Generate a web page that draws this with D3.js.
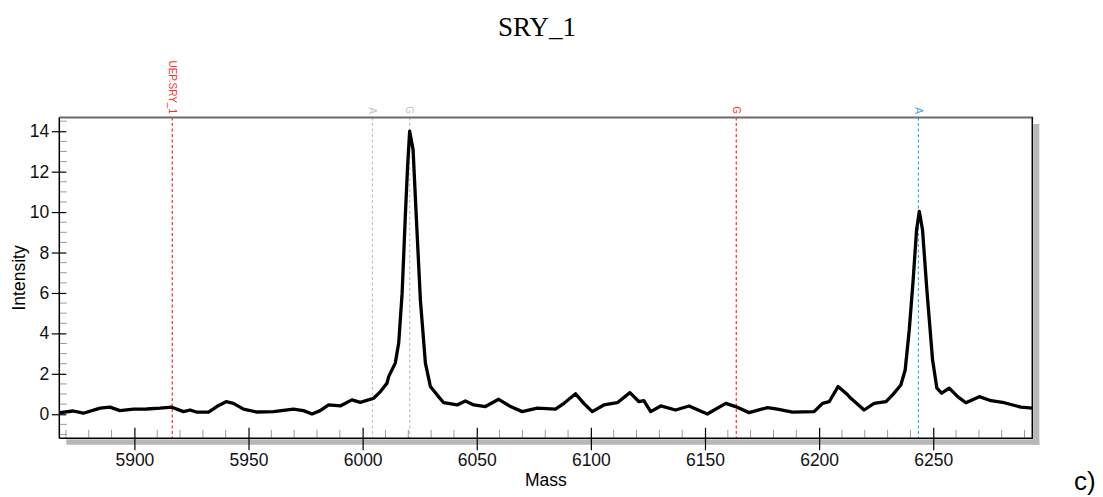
<!DOCTYPE html>
<html>
<head>
<meta charset="utf-8">
<script src="https://cdn.jsdelivr.net/npm/d3@7"></script>
<style>
  body { margin: 0; background: #fff; }
  svg { display: block; }
</style>
</head>
<body>
<svg id="chart"></svg>
<script>
// Spectrum trace
const mass = [5867.4, 5873.2, 5877.6, 5885.0, 5889.3, 5893.7, 5899.6, 5905.4, 5911.3, 5916.4,
  5921.5, 5924.4, 5927.4, 5932.5, 5936.1, 5940.2, 5943.4, 5947.8, 5953.7, 5961.0,
  5969.7, 5974.1, 5977.8, 5981.4, 5985.1, 5990.2, 5995.3, 5999.0, 6004.8, 6007.8,
  6010.7, 6011.4, 6014.3, 6015.8, 6017.3, 6018.7, 6019.7, 6020.6, 6022.1, 6023.5,
  6025.3, 6027.5, 6029.7, 6032.6, 6035.5, 6041.4, 6045.0, 6048.7, 6053.8, 6059.6,
  6064.8, 6069.9, 6076.5, 6084.5, 6088.2, 6093.3, 6096.9, 6100.6, 6105.7, 6111.6,
  6117.1, 6121.1, 6123.2, 6126.2, 6130.6, 6137.1, 6143.0, 6151.0, 6159.1, 6163.4,
  6169.3, 6177.4, 6181.7, 6188.3, 6197.8, 6201.5, 6204.4, 6208.3, 6212.5, 6213.9,
  6219.7, 6224.1, 6229.3, 6232.2, 6235.8, 6237.7, 6239.5, 6241.2, 6242.7, 6243.9,
  6245.3, 6247.2, 6249.7, 6251.6, 6253.7, 6257.0, 6260.7, 6264.3, 6270.2, 6275.3,
  6281.1, 6288.4, 6293.5];
const intensity = [0.08, 0.16, 0.05, 0.30, 0.35, 0.18, 0.25, 0.26, 0.30, 0.35,
  0.13, 0.21, 0.10, 0.10, 0.38, 0.62, 0.54, 0.25, 0.11, 0.13,
  0.25, 0.18, 0.01, 0.18, 0.46, 0.41, 0.71, 0.59, 0.79, 1.12,
  1.54, 1.86, 2.53, 3.52, 5.99, 9.79, 12.26, 14.0, 13.09, 9.79,
  5.66, 2.53, 1.37, 0.96, 0.57, 0.46, 0.66, 0.46, 0.38, 0.74,
  0.38, 0.13, 0.30, 0.25, 0.54, 1.01, 0.54, 0.13, 0.46, 0.57,
  1.07, 0.62, 0.67, 0.13, 0.41, 0.21, 0.41, 0.01, 0.54, 0.38,
  0.08, 0.33, 0.25, 0.10, 0.13, 0.54, 0.62, 1.37, 0.96, 0.79,
  0.21, 0.54, 0.62, 0.96, 1.45, 2.19, 4.18, 6.65, 9.13, 10.03,
  9.13, 6.16, 2.69, 1.29, 1.04, 1.29, 0.87, 0.57, 0.87, 0.67,
  0.57, 0.35, 0.30];

// Marker lines
const markerNames = ["UEP.SRY_1", "A", "G", "G", "A"];
const markerMass = [5916.6, 6004.3, 6020.6, 6163.7, 6243.5];
const markerColors = ["#ff2a2a", "#c4c4c4", "#c4c4c4", "#ff2a2a", "#3ea6f2"];

const xTicks = [5900, 5950, 6000, 6050, 6100, 6150, 6200, 6250];
const yTicks = [0, 2, 4, 6, 8, 10, 12, 14];

const W = 1103, H = 497;
const pl = 59.3, pr = 1032.3, pt = 117.5, pb = 438.3;

const svg = d3.select("#chart").attr("width", W).attr("height", H);

const x = d3.scaleLinear().domain([5867.1, 6293.4]).range([pl, pr]);
const y = d3.scaleLinear().domain([-1.19, 14.68]).range([pb, pt]);

// Title
svg.append("text")
  .attr("x", 537).attr("y", 36)
  .attr("text-anchor", "middle")
  .attr("font-family", "Liberation Serif, Times New Roman, serif")
  .attr("font-size", 27)
  .text("SRY_1");

// Frame shadow
svg.append("rect").attr("x", pr + 1).attr("y", pt + 6.5).attr("width", 6).attr("height", pb - pt).attr("fill", "#b8b8b8");
svg.append("rect").attr("x", pl + 7).attr("y", pb + 1).attr("width", pr - pl).attr("height", 5.5).attr("fill", "#b8b8b8");

// Clip for the plot area
svg.append("clipPath").attr("id", "clip")
  .append("rect").attr("x", pl).attr("y", pt).attr("width", pr - pl).attr("height", pb - pt);

// Marker dashed lines
const mk = svg.append("g");
markerMass.forEach((m, i) => {
  mk.append("line")
    .attr("x1", x(m)).attr("x2", x(m))
    .attr("y1", pt).attr("y2", pb)
    .attr("stroke", markerColors[i])
    .attr("stroke-width", 1.2)
    .attr("stroke-dasharray", "3,2.5");
  mk.append("text")
    .attr("transform", `translate(${x(m) - 3.5},${pt - 3.5}) rotate(90)`)
    .attr("text-anchor", "end")
    .attr("font-family", "Liberation Sans, Arial, sans-serif")
    .attr("font-size", 10)
    .attr("fill", markerColors[i])
    .text(markerNames[i]);
});

// Spectrum line
const line = d3.line()
  .x((d, i) => x(mass[i]))
  .y(d => y(d));
svg.append("path")
  .datum(intensity)
  .attr("clip-path", "url(#clip)")
  .attr("fill", "none")
  .attr("stroke", "#000")
  .attr("stroke-width", 3.3)
  .attr("stroke-linejoin", "round")
  .attr("d", line);

// Minor ticks
const minorX = d3.range(5870, 6293, 10).filter(v => v % 50 !== 0);
svg.append("g").selectAll("line").data(minorX).join("line")
  .attr("x1", d => x(d)).attr("x2", d => x(d))
  .attr("y1", pb - 8.5).attr("y2", pb)
  .attr("stroke", "#9a9a9a").attr("stroke-width", 1);
const minorY = d3.range(-1, 14.6, 0.5).filter(v => v % 2 !== 0);
svg.append("g").selectAll("line").data(minorY).join("line")
  .attr("x1", pl).attr("x2", pl + 7.5)
  .attr("y1", d => y(d)).attr("y2", d => y(d))
  .attr("stroke", "#9a9a9a").attr("stroke-width", 1);

// Frame
svg.append("line").attr("x1", pl).attr("x2", pr + 1).attr("y1", pt).attr("y2", pt).attr("stroke", "#6a6a6a").attr("stroke-width", 2);
svg.append("line").attr("x1", pr).attr("x2", pr).attr("y1", pt).attr("y2", pb).attr("stroke", "#000").attr("stroke-width", 1.5);

// Axes
const xAxis = d3.axisBottom(x).tickValues(xTicks).tickFormat(d3.format("d"))
  .tickSizeInner(12).tickSizeOuter(0).tickPadding(3);
const gx = svg.append("g").attr("transform", `translate(0,${pb})`).call(xAxis);
gx.select(".domain").attr("d", `M${pl},0H${pr + 0.7}`).attr("stroke", "#000").attr("stroke-width", 1.5);
gx.selectAll(".tick line").attr("y1", -10.5).attr("stroke", "#000").attr("stroke-width", 1.2);
gx.selectAll(".tick text")
  .attr("font-family", "Liberation Sans, Arial, sans-serif")
  .attr("font-size", 17.5).attr("fill", "#111");

const yAxis = d3.axisLeft(y).tickValues(yTicks).tickFormat(d3.format("d"))
  .tickSizeInner(7.5).tickSizeOuter(0).tickPadding(2.5);
const gy = svg.append("g").attr("transform", `translate(${pl},0)`).call(yAxis);
gy.select(".domain").attr("d", `M0,${pt}V${pb}`).attr("stroke", "#000").attr("stroke-width", 1.5);
gy.selectAll(".tick line").attr("x2", 7).attr("x1", -7.5).attr("stroke", "#000").attr("stroke-width", 1.2);
gy.selectAll(".tick text")
  .attr("x", -10)
  .attr("font-family", "Liberation Sans, Arial, sans-serif")
  .attr("font-size", 17.5).attr("fill", "#111");

// Axis titles
svg.append("text")
  .attr("x", (pl + pr) / 2).attr("y", 486)
  .attr("text-anchor", "middle")
  .attr("font-family", "Liberation Sans, Arial, sans-serif")
  .attr("font-size", 17.5)
  .text("Mass");
svg.append("text")
  .attr("transform", `translate(24.5,${(pt + pb) / 2}) rotate(-90)`)
  .attr("text-anchor", "middle")
  .attr("font-family", "Liberation Sans, Arial, sans-serif")
  .attr("font-size", 17.5)
  .text("Intensity");

// Panel tag
svg.append("text")
  .attr("x", 1074).attr("y", 490)
  .attr("font-family", "Liberation Sans, Arial, sans-serif")
  .attr("font-size", 26)
  .text("c)");
</script>
</body>
</html>
